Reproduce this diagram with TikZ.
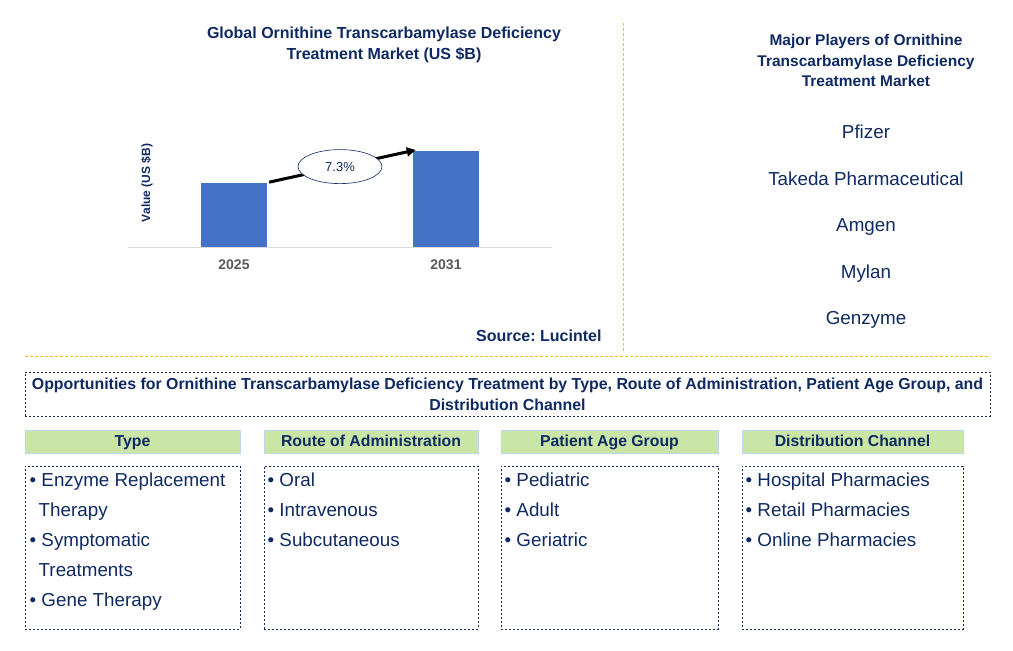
\documentclass[tikz,border=0pt]{standalone}
\usepackage{fontspec}
\setmainfont{Liberation Sans}
\frenchspacing
\usetikzlibrary{arrows.meta,positioning,shapes.geometric}
\definecolor{navy}{HTML}{0F2A62}
\definecolor{barblue}{HTML}{4472C4}
\definecolor{headgreen}{HTML}{CAE6A6}
\definecolor{headedge}{HTML}{BDD7EE}
\definecolor{divyellow}{HTML}{FFC000}
\definecolor{yeargray}{HTML}{595959}

\begin{document}
\begin{tikzpicture}[x=1pt, y=-1pt,
  title/.style={font=\bfseries\fontsize{16}{21}\selectfont, text=navy, align=center},
  bar/.style={fill=barblue, minimum width=66, inner sep=0, anchor=south},
  year/.style={font=\bfseries\fontsize{14}{16}\selectfont, text=yeargray},
  player/.style={font=\fontsize{18.8}{20}\selectfont, text=navy, text height=14, text depth=4},
  divider/.style={divyellow, line width=0.8pt, dash pattern=on 3pt off 2pt},
  dotbox/.style={draw=navy, line width=1pt, dash pattern=on 2pt off 2pt},
  head/.style={fill=headgreen, draw=headedge, line width=1pt, minimum height=23, inner sep=0,
    text height=12, text depth=2, font=\bfseries\fontsize{15.8}{17}\selectfont, text=navy},
  itembox/.style={dotbox, minimum height=163, inner sep=0},
  items/.style={anchor=north west, inner sep=0, align=left,
    font=\fontsize{18.8}{30}\selectfont, text=navy}]
  \useasboundingbox (0,0) rectangle (1013,651);

  % market chart
  \node[title] (charttitle) at (384,45) {Global Ornithine Transcarbamylase Deficiency\\Treatment Market (US \$B)};
  \draw[gray!30, line width=1pt] (128,247) -- (552,247);
  \node[bar, minimum height=64] (b25) at (234,247) {};
  \node[bar, minimum height=96] (b31) at (446,247) {};
  \node[year, below=9.5pt of b25.south] (y25) {2025};
  \node[year, below=9.5pt of b31.south] (y31) {2031};
  \node[rotate=90, font=\bfseries\fontsize{12}{14}\selectfont, text=navy] (vlabel) at (147,183) {Value (US \$B)};
  \draw[-{Triangle[length=9pt,width=9pt]}, line width=3pt, shorten <=2pt, shorten >=-3pt] (b25.north east) -- (b31.north west)
    node[pos=0.5, ellipse, draw=navy, fill=white, line width=0.6pt, minimum width=84, minimum height=34,
      inner sep=0, font=\fontsize{13}{15}\selectfont, text=navy] (cagr) {7.3\%};
  \node[title, anchor=east] (source) at (605,336) {Source: Lucintel};

  % players
  \node[title, font=\bfseries\fontsize{15.5}{20.5}\selectfont] (playtitle) at (866,60.5) {Major Players of Ornithine\\Transcarbamylase Deficiency\\Treatment Market};
  \foreach \name [count=\i] in {Pfizer, Takeda Pharmaceutical, Amgen, Mylan, Genzyme}
    \node[player] (p\i) at (866,{133.5+46.5*(\i-1)}) {\name};

  \draw[divider] (623,23) -- (623,352);
  \draw[divider] (25,356) -- (990,356);

  % opportunities
  \node[dotbox, minimum width=965, minimum height=44, inner sep=0, align=center,
    font=\bfseries\fontsize{15.9}{21}\selectfont, text=navy] (opp) at (507.5,394)
    {Opportunities for Ornithine Transcarbamylase Deficiency Treatment by Type, Route of Administration, Patient Age Group, and\\Distribution Channel};

  \node[head, minimum width=215] (htype) at (132.5,441.5) {Type};
  \node[head, minimum width=214] (hroute) at (371,441.5) {Route of Administration};
  \node[head, minimum width=217] (hage) at (609.5,441.5) {Patient Age Group};
  \node[head, minimum width=221] (hdist) at (852.5,441.5) {Distribution Channel};

  \node[itembox, minimum width=215, below=12pt of htype] (btype) {};
  \node[itembox, minimum width=214, below=12pt of hroute] (broute) {};
  \node[itembox, minimum width=217, below=12pt of hage] (bage) {};
  \node[itembox, minimum width=221, below=12pt of hdist] (bdist) {};

  \node[items] at ([shift={(5,7)}]btype.north west)
    {\textbullet\ Enzyme Replacement\\\hspace*{9pt}Therapy\\\textbullet\ Symptomatic\\\hspace*{9pt}Treatments\\\textbullet\ Gene Therapy};
  \node[items] at ([shift={(4,7)}]broute.north west)
    {\textbullet\ Oral\\\textbullet\ Intravenous\\\textbullet\ Subcutaneous};
  \node[items] at ([shift={(4,7)}]bage.north west)
    {\textbullet\ Pediatric\\\textbullet\ Adult\\\textbullet\ Geriatric};
  \node[items] at ([shift={(4,7)}]bdist.north west)
    {\textbullet\ Hospital Pharmacies\\\textbullet\ Retail Pharmacies\\\textbullet\ Online Pharmacies};
\end{tikzpicture}
\end{document}
